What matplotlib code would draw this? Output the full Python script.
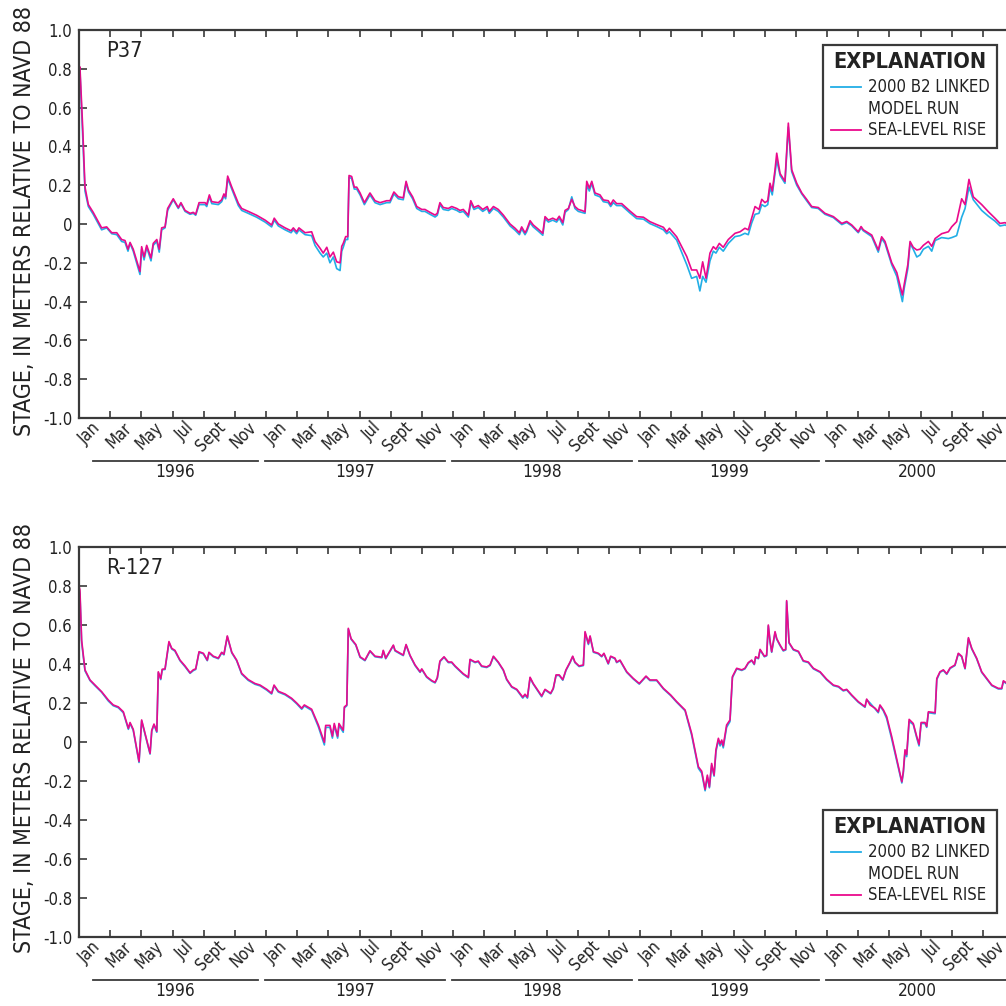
import matplotlib
matplotlib.use("Agg")
import matplotlib.pyplot as plt
from matplotlib import font_manager
from matplotlib.transforms import ScaledTranslation, blended_transform_factory
from matplotlib.patches import Rectangle

# prefer a narrow face, like the original's condensed type
installed = {(f.name, str(f.stretch)) for f in font_manager.fontManager.ttflist}
names = {n for n, s in installed}
if 'Liberation Sans Narrow' in names:
    plt.rcParams['font.family'] = ['Liberation Sans Narrow', 'DejaVu Sans']
    FS = 1.0
elif any(n == 'DejaVu Sans' and 'condensed' in s for n, s in installed) or \
        ('DejaVu Sans Condensed' in names):
    plt.rcParams['font.family'] = ['DejaVu Sans']
    plt.rcParams['font.stretch'] = 'condensed'
    FS = 0.92
else:
    plt.rcParams['font.family'] = ['Liberation Sans', 'DejaVu Sans']
    FS = 0.88

# x values are years since 1 January 1996
p37_years = [
    0.000, 0.005, 0.020, 0.032, 0.050, 0.076, 0.121, 0.148, 0.175, 0.202,
    0.228, 0.246, 0.262, 0.273, 0.290, 0.326, 0.335, 0.348, 0.362, 0.385,
    0.397, 0.416, 0.429, 0.442, 0.460, 0.474, 0.504, 0.531, 0.545, 0.567,
    0.594, 0.611, 0.624, 0.642, 0.674, 0.683, 0.697, 0.710, 0.745, 0.763,
    0.775, 0.784, 0.795, 0.817, 0.852, 0.870, 0.905, 0.950, 0.995, 1.030,
    1.044, 1.066, 1.102, 1.134, 1.146, 1.164, 1.176, 1.209, 1.244, 1.262,
    1.289, 1.306, 1.325, 1.342, 1.360, 1.378, 1.396, 1.405, 1.413, 1.426,
    1.437, 1.444, 1.458, 1.472, 1.485, 1.503, 1.526, 1.556, 1.583, 1.610,
    1.645, 1.663, 1.684, 1.708, 1.734, 1.749, 1.762, 1.784, 1.806, 1.833,
    1.850, 1.877, 1.904, 1.916, 1.930, 1.948, 1.975, 1.993, 2.020, 2.037,
    2.055, 2.082, 2.095, 2.112, 2.135, 2.159, 2.183, 2.194, 2.216, 2.242,
    2.269, 2.305, 2.332, 2.355, 2.367, 2.385, 2.394, 2.412, 2.429, 2.456,
    2.480, 2.492, 2.510, 2.533, 2.554, 2.568, 2.587, 2.599, 2.617, 2.635,
    2.652, 2.670, 2.688, 2.706, 2.715, 2.729, 2.742, 2.759, 2.786, 2.804,
    2.830, 2.843, 2.857, 2.875, 2.902, 2.947, 2.982, 3.018, 3.053, 3.089,
    3.125, 3.143, 3.157, 3.196, 3.250, 3.276, 3.303, 3.320, 3.335, 3.353,
    3.374, 3.392, 3.406, 3.424, 3.445, 3.472, 3.508, 3.535, 3.561, 3.579,
    3.597, 3.615, 3.636, 3.651, 3.668, 3.683, 3.695, 3.707, 3.722, 3.731,
    3.740, 3.749, 3.775, 3.793, 3.811, 3.838, 3.865, 3.891, 3.918, 3.953,
    3.989, 4.034, 4.079, 4.105, 4.132, 4.167, 4.182, 4.194, 4.239, 4.274,
    4.292, 4.310, 4.346, 4.373, 4.403, 4.413, 4.432, 4.444, 4.461, 4.480,
    4.497, 4.515, 4.542, 4.560, 4.578, 4.613, 4.649, 4.667, 4.693, 4.720,
    4.738, 4.759, 4.782, 4.827, 4.863, 4.898, 4.925, 4.952, 4.965,
]
p37_slr = [
    0.80, 0.81, 0.49, 0.19, 0.10, 0.06, -0.02, -0.015, -0.045, -0.045,
    -0.08, -0.085, -0.13, -0.095, -0.13, -0.245, -0.117, -0.17, -0.11, -0.175,
    -0.10, -0.08, -0.13, -0.02, -0.015, 0.08, 0.13, 0.085, 0.11, 0.07,
    0.055, 0.06, 0.05, 0.11, 0.11, 0.10, 0.15, 0.115, 0.11, 0.125,
    0.155, 0.14, 0.247, 0.19, 0.107, 0.08, 0.065, 0.045, 0.02, -0.005,
    0.03, 0.00, -0.02, -0.035, -0.02, -0.04, -0.02, -0.045, -0.04, -0.09,
    -0.125, -0.15, -0.12, -0.17, -0.145, -0.195, -0.20, -0.115, -0.10, -0.065,
    -0.065, 0.25, 0.245, 0.19, 0.19, 0.16, 0.11, 0.16, 0.12, 0.11,
    0.12, 0.12, 0.165, 0.14, 0.135, 0.22, 0.175, 0.14, 0.09, 0.075,
    0.075, 0.06, 0.046, 0.055, 0.11, 0.085, 0.08, 0.09, 0.08, 0.07,
    0.075, 0.046, 0.12, 0.085, 0.095, 0.075, 0.09, 0.065, 0.09, 0.075,
    0.046, 0.00, -0.022, -0.045, -0.015, -0.045, -0.03, 0.017, -0.005, -0.027,
    -0.048, 0.038, 0.02, 0.03, 0.02, 0.04, 0.007, 0.07, 0.08, 0.127,
    0.09, 0.075, 0.07, 0.063, 0.22, 0.185, 0.22, 0.16, 0.15, 0.124,
    0.12, 0.10, 0.124, 0.105, 0.105, 0.066, 0.038, 0.035, 0.012, -0.003,
    -0.017, -0.04, -0.022, -0.066, -0.168, -0.237, -0.237, -0.28, -0.195, -0.28,
    -0.15, -0.117, -0.13, -0.10, -0.12, -0.08, -0.048, -0.04, -0.022, -0.03,
    0.03, 0.09, 0.075, 0.127, 0.11, 0.12, 0.21, 0.17, 0.28, 0.365,
    0.31, 0.26, 0.22, 0.52, 0.28, 0.21, 0.16, 0.127, 0.09, 0.085,
    0.055, 0.038, 0.003, 0.013, -0.005, -0.04, -0.013, -0.03, -0.057, -0.134,
    -0.066, -0.09, -0.20, -0.25, -0.366, -0.31, -0.21, -0.09, -0.12, -0.134,
    -0.13, -0.11, -0.09, -0.115, -0.075, -0.05, -0.04, -0.014, 0.012, 0.13,
    0.10, 0.23, 0.14, 0.10, 0.063, 0.03, 0.003, 0.007, 0.0,
]
p37_b2 = [
    0.78, 0.79, 0.45, 0.17, 0.09, 0.05, -0.03, -0.02, -0.05, -0.055,
    -0.09, -0.095, -0.14, -0.10, -0.14, -0.26, -0.13, -0.185, -0.12, -0.19,
    -0.11, -0.09, -0.145, -0.03, -0.02, 0.07, 0.125, 0.08, 0.105, 0.065,
    0.05, 0.055, 0.045, 0.10, 0.10, 0.09, 0.14, 0.105, 0.10, 0.115,
    0.145, 0.13, 0.235, 0.18, 0.095, 0.07, 0.055, 0.035, 0.01, -0.015,
    0.02, -0.01, -0.03, -0.045, -0.03, -0.05, -0.03, -0.055, -0.06, -0.11,
    -0.15, -0.17, -0.15, -0.20, -0.17, -0.23, -0.24, -0.14, -0.12, -0.08,
    -0.08, 0.24, 0.235, 0.18, 0.18, 0.15, 0.10, 0.15, 0.11, 0.10,
    0.11, 0.11, 0.155, 0.13, 0.125, 0.21, 0.165, 0.13, 0.08, 0.065,
    0.065, 0.05, 0.036, 0.045, 0.10, 0.075, 0.07, 0.08, 0.07, 0.06,
    0.065, 0.036, 0.11, 0.075, 0.085, 0.065, 0.08, 0.055, 0.08, 0.065,
    0.036, -0.01, -0.032, -0.055, -0.025, -0.055, -0.04, 0.007, -0.015, -0.037,
    -0.058, 0.028, 0.01, 0.02, 0.01, 0.03, -0.005, 0.06, 0.075, 0.14,
    0.08, 0.065, 0.06, 0.055, 0.20, 0.17, 0.21, 0.15, 0.14, 0.115,
    0.11, 0.09, 0.11, 0.095, 0.095, 0.056, 0.028, 0.025, 0.002, -0.013,
    -0.03, -0.05, -0.04, -0.083, -0.21, -0.28, -0.27, -0.345, -0.27, -0.30,
    -0.19, -0.14, -0.15, -0.12, -0.14, -0.10, -0.065, -0.06, -0.048, -0.055,
    0.005, 0.05, 0.055, 0.10, 0.09, 0.10, 0.19, 0.15, 0.26, 0.33,
    0.29, 0.25, 0.21, 0.50, 0.27, 0.20, 0.155, 0.12, 0.085, 0.08,
    0.05, 0.033, -0.003, 0.008, -0.01, -0.045, -0.02, -0.035, -0.065, -0.145,
    -0.075, -0.10, -0.21, -0.27, -0.40, -0.33, -0.23, -0.10, -0.13, -0.17,
    -0.16, -0.13, -0.115, -0.14, -0.085, -0.07, -0.075, -0.07, -0.06, 0.035,
    0.08, 0.19, 0.125, 0.07, 0.04, 0.015, -0.01, -0.005, -0.01,
]

r127_years = [
    0.000, 0.005, 0.014, 0.032, 0.059, 0.086, 0.121, 0.157, 0.183, 0.210,
    0.237, 0.264, 0.273, 0.290, 0.321, 0.335, 0.353, 0.380, 0.389, 0.401,
    0.416, 0.424, 0.437, 0.445, 0.460, 0.481, 0.496, 0.513, 0.540, 0.567,
    0.594, 0.611, 0.624, 0.642, 0.665, 0.686, 0.695, 0.718, 0.745, 0.763,
    0.775, 0.793, 0.817, 0.843, 0.870, 0.905, 0.941, 0.968, 1.004, 1.030,
    1.043, 1.066, 1.102, 1.137, 1.164, 1.191, 1.205, 1.244, 1.280, 1.312,
    1.319, 1.342, 1.355, 1.365, 1.383, 1.390, 1.413, 1.419, 1.432, 1.440,
    1.455, 1.480, 1.503, 1.529, 1.556, 1.583, 1.619, 1.627, 1.640, 1.681,
    1.690, 1.734, 1.749, 1.770, 1.797, 1.824, 1.833, 1.859, 1.886, 1.904,
    1.916, 1.930, 1.952, 1.975, 1.993, 2.011, 2.037, 2.055, 2.082, 2.091,
    2.118, 2.135, 2.153, 2.180, 2.198, 2.216, 2.242, 2.269, 2.287, 2.314,
    2.341, 2.373, 2.385, 2.398, 2.412, 2.429, 2.474, 2.492, 2.522, 2.536,
    2.551, 2.568, 2.587, 2.604, 2.626, 2.640, 2.652, 2.674, 2.697, 2.706,
    2.724, 2.733, 2.751, 2.777, 2.795, 2.807, 2.830, 2.843, 2.866, 2.875,
    2.893, 2.929, 2.964, 2.996, 3.032, 3.053, 3.089, 3.125, 3.164, 3.196,
    3.241, 3.276, 3.312, 3.330, 3.348, 3.360, 3.371, 3.383, 3.396, 3.406,
    3.419, 3.428, 3.437, 3.445, 3.463, 3.481, 3.494, 3.517, 3.544, 3.561,
    3.579, 3.597, 3.611, 3.618, 3.633, 3.642, 3.665, 3.677, 3.686, 3.695,
    3.704, 3.722, 3.731, 3.749, 3.766, 3.779, 3.784, 3.797, 3.820, 3.847,
    3.873, 3.900, 3.927, 3.963, 3.998, 4.034, 4.061, 4.087, 4.105, 4.132,
    4.167, 4.203, 4.212, 4.230, 4.257, 4.274, 4.283, 4.301, 4.319, 4.346,
    4.400, 4.408, 4.417, 4.426, 4.439, 4.461, 4.480, 4.492, 4.503, 4.524,
    4.533, 4.542, 4.578, 4.587, 4.604, 4.622, 4.640, 4.658, 4.684, 4.702,
    4.720, 4.738, 4.756, 4.774, 4.800, 4.827, 4.854, 4.881, 4.916, 4.934,
    4.943, 4.963,
]
r127_slr = [
    0.80, 0.78, 0.523, 0.37, 0.318, 0.292, 0.258, 0.215, 0.19, 0.18,
    0.155, 0.07, 0.10, 0.065, -0.10, 0.113, 0.045, -0.058, 0.06, 0.092,
    0.055, 0.36, 0.325, 0.373, 0.375, 0.515, 0.48, 0.47, 0.42, 0.39,
    0.355, 0.37, 0.375, 0.463, 0.455, 0.42, 0.46, 0.44, 0.43, 0.46,
    0.45, 0.544, 0.46, 0.42, 0.352, 0.32, 0.30, 0.292, 0.27, 0.25,
    0.292, 0.26, 0.246, 0.224, 0.20, 0.173, 0.19, 0.168, 0.087, -0.002,
    0.085, 0.085, 0.03, 0.095, 0.03, 0.095, 0.06, 0.18, 0.19, 0.583,
    0.53, 0.50, 0.437, 0.42, 0.468, 0.44, 0.435, 0.47, 0.43, 0.497,
    0.47, 0.446, 0.50, 0.445, 0.395, 0.36, 0.375, 0.335, 0.315, 0.306,
    0.33, 0.415, 0.437, 0.41, 0.41, 0.39, 0.366, 0.35, 0.332, 0.424,
    0.41, 0.415, 0.39, 0.385, 0.395, 0.44, 0.41, 0.37, 0.322, 0.284,
    0.27, 0.23, 0.245, 0.23, 0.332, 0.30, 0.236, 0.27, 0.25, 0.275,
    0.344, 0.344, 0.32, 0.37, 0.41, 0.44, 0.41, 0.39, 0.395, 0.566,
    0.505, 0.544, 0.463, 0.455, 0.44, 0.455, 0.403, 0.44, 0.43, 0.41,
    0.42, 0.36, 0.326, 0.30, 0.338, 0.318, 0.318, 0.275, 0.241, 0.207,
    0.164, 0.044, -0.127, -0.15, -0.243, -0.17, -0.23, -0.11, -0.17, -0.04,
    0.019, -0.01, 0.01, -0.02, 0.087, 0.113, 0.335, 0.378, 0.37, 0.378,
    0.407, 0.42, 0.40, 0.437, 0.43, 0.475, 0.44, 0.445, 0.60, 0.52,
    0.463, 0.566, 0.53, 0.497, 0.47, 0.475, 0.725, 0.51, 0.475, 0.465,
    0.417, 0.41, 0.378, 0.36, 0.322, 0.292, 0.285, 0.265, 0.27, 0.241,
    0.207, 0.181, 0.22, 0.19, 0.173, 0.155, 0.19, 0.165, 0.13, 0.027,
    -0.204, -0.15, -0.04, -0.065, 0.116, 0.095, 0.027, -0.012, 0.10, 0.10,
    0.08, 0.155, 0.15, 0.326, 0.36, 0.37, 0.35, 0.38, 0.395, 0.455,
    0.44, 0.378, 0.535, 0.48, 0.43, 0.36, 0.326, 0.292, 0.275, 0.275,
    0.314, 0.30,
]
r127_b2 = [
    0.78, 0.76, 0.51, 0.365, 0.315, 0.288, 0.255, 0.21, 0.186, 0.176,
    0.15, 0.065, 0.095, 0.06, -0.105, 0.108, 0.04, -0.062, 0.055, 0.088,
    0.05, 0.355, 0.32, 0.37, 0.372, 0.51, 0.477, 0.466, 0.417, 0.386,
    0.352, 0.366, 0.372, 0.46, 0.452, 0.417, 0.457, 0.437, 0.427, 0.457,
    0.447, 0.54, 0.457, 0.417, 0.348, 0.316, 0.296, 0.288, 0.266, 0.246,
    0.288, 0.256, 0.242, 0.22, 0.196, 0.168, 0.185, 0.162, 0.078, -0.015,
    0.075, 0.075, 0.02, 0.085, 0.02, 0.085, 0.05, 0.175, 0.186, 0.578,
    0.527, 0.497, 0.434, 0.417, 0.465, 0.437, 0.432, 0.467, 0.427, 0.494,
    0.467, 0.443, 0.497, 0.442, 0.392, 0.357, 0.372, 0.332, 0.312, 0.303,
    0.327, 0.412, 0.434, 0.407, 0.407, 0.387, 0.363, 0.347, 0.329, 0.421,
    0.407, 0.412, 0.387, 0.382, 0.392, 0.437, 0.407, 0.367, 0.319, 0.281,
    0.267, 0.225, 0.24, 0.225, 0.329, 0.297, 0.232, 0.267, 0.247, 0.272,
    0.341, 0.341, 0.317, 0.367, 0.407, 0.437, 0.407, 0.387, 0.392, 0.56,
    0.50, 0.54, 0.46, 0.452, 0.437, 0.452, 0.40, 0.437, 0.427, 0.407,
    0.417, 0.357, 0.323, 0.297, 0.335, 0.315, 0.315, 0.272, 0.238, 0.204,
    0.16, 0.035, -0.135, -0.16, -0.25, -0.18, -0.235, -0.12, -0.175, -0.05,
    0.01, -0.02, 0.0, -0.03, 0.075, 0.105, 0.33, 0.375, 0.367, 0.375,
    0.404, 0.417, 0.397, 0.434, 0.427, 0.472, 0.437, 0.442, 0.595, 0.515,
    0.46, 0.56, 0.527, 0.494, 0.467, 0.472, 0.72, 0.507, 0.472, 0.462,
    0.414, 0.407, 0.375, 0.357, 0.319, 0.289, 0.282, 0.262, 0.267, 0.238,
    0.204, 0.178, 0.217, 0.2, 0.17, 0.15, 0.185, 0.16, 0.12, 0.015,
    -0.21, -0.16, -0.05, -0.075, 0.105, 0.09, 0.02, -0.02, 0.095, 0.095,
    0.075, 0.15, 0.145, 0.32, 0.357, 0.367, 0.347, 0.377, 0.392, 0.452,
    0.437, 0.375, 0.53, 0.477, 0.427, 0.357, 0.323, 0.289, 0.272, 0.272,
    0.31, 0.297,
]

years = ['1996', '1997', '1998', '1999', '2000']
months = ['Jan', 'Mar', 'May', 'Jul', 'Sept', 'Nov']
y_ticks = [1.0, 0.8, 0.6, 0.4, 0.2, 0.0, -0.2, -0.4, -0.6, -0.8, -1.0]
y_tick_labels = ['1.0', '0.8', '0.6', '0.4', '0.2', '0', '-0.2', '-0.4',
                 '-0.6', '-0.8', '-1.0']

CYAN = '#22aee6'
MAGENTA = '#ea0a8c'
SPINE = '#3a3a3a'
INK = '#222222'
W, H = 1006, 1006


def draw_panel(fig, ax, t, b2, slr, name, legend_top):
    ax.plot(t, b2, color=CYAN, lw=1.2)
    ax.plot(t, slr, color=MAGENTA, lw=1.2)
    ax.set_xlim(0, 4.957)
    ax.set_ylim(-1, 1)

    for side in ['left', 'bottom', 'top']:
        ax.spines[side].set_color(SPINE)
        ax.spines[side].set_linewidth(1.6)
    ax.spines['right'].set_visible(False)

    ax.set_yticks(y_ticks)
    ax.set_yticklabels(y_tick_labels)
    ax.set_xticks([y + k / 6 for y in range(len(years)) for k in range(6)])
    ax.set_xticklabels(months * len(years), rotation=45, ha='right',
                       va='center', rotation_mode='anchor')
    ax.tick_params(axis='both', direction='in', color=SPINE, width=1.2,
                   labelsize=13 * FS, labelcolor=INK)
    ax.tick_params(axis='x', top=True, length=5, pad=5)
    ax.tick_params(axis='y', length=6, pad=5)
    shift = ScaledTranslation(19 / 100, 0, fig.dpi_scale_trans)
    for lbl in ax.get_xticklabels():
        lbl.set_transform(lbl.get_transform() + shift)

    # year brackets under the month labels, label centred on its bracket
    trans = blended_transform_factory(ax.transData, ax.transAxes)
    for i, yr in enumerate(years):
        x0 = max(i - 0.005, 0.073)
        x1 = i + 0.955 if i < len(years) - 1 else 4.973
        ax.plot([x0, x1], [-0.111, -0.111], transform=trans, color=SPINE,
                lw=1.3, clip_on=False)
        ax.text((x0 + x1) / 2, -0.139, yr, transform=trans, ha='center',
                va='center', fontsize=13.5 * FS, color=INK)

    ax.text(0.029, 0.947, name, transform=ax.transAxes, ha='left',
            va='center', fontsize=17 * FS, color=INK)

    # explanation box
    box_h = 0.265
    ax.add_patch(Rectangle((0.803, legend_top - box_h), 0.187, box_h,
                           transform=ax.transAxes, fill=True, fc='white',
                           ec=SPINE, lw=1.6, zorder=5))
    ax.text(0.896, legend_top - 0.043, 'EXPLANATION', transform=ax.transAxes,
            ha='center', va='center', fontsize=17 * FS, fontweight='bold',
            color=INK, zorder=6)
    rows = [(0.108, CYAN, '2000 B2 LINKED'), (0.165, None, 'MODEL RUN'),
            (0.219, MAGENTA, 'SEA-LEVEL RISE')]
    for dy, col, txt in rows:
        yy = legend_top - dy
        if col:
            ax.plot([0.811, 0.844], [yy, yy], transform=ax.transAxes,
                    color=col, lw=1.3, zorder=6)
        ax.text(0.851, yy, txt, transform=ax.transAxes, ha='left',
                va='center', fontsize=13 * FS, color=INK, zorder=6)


fig = plt.figure(figsize=(W / 100, H / 100), dpi=100)
ax1 = fig.add_axes([79 / W, 1 - 418 / H, 927 / W, 388 / H])
ax2 = fig.add_axes([79 / W, 1 - 937 / H, 927 / W, 390 / H])

draw_panel(fig, ax1, p37_years, p37_b2, p37_slr, 'P37', 0.961)
draw_panel(fig, ax2, r127_years, r127_b2, r127_slr, 'R-127', 0.326)

ylab = 'STAGE, IN METERS RELATIVE TO NAVD 88'
for yc in (221, 738):
    fig.text(25 / W, 1 - yc / H, ylab, rotation=90, ha='center',
             va='center', fontsize=18 * FS, color=INK)

fig.savefig('out.png', dpi=100)
